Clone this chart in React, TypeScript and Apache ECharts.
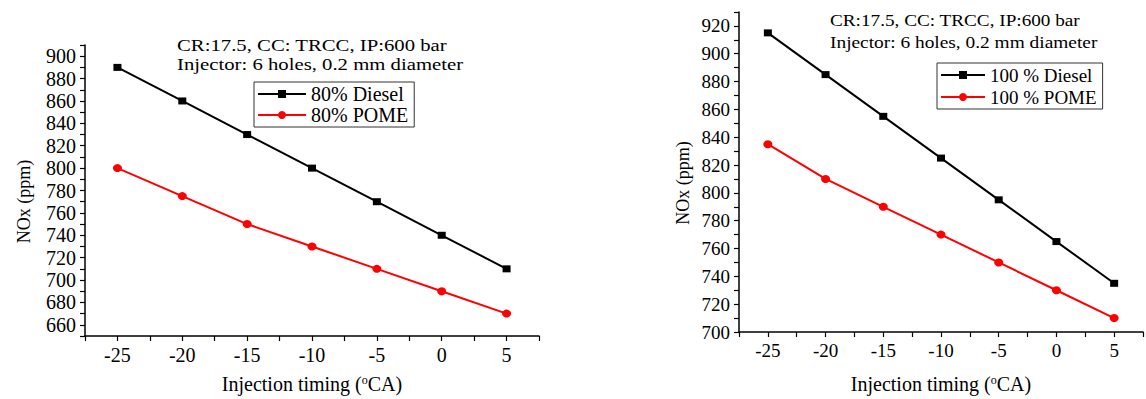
import React, { useEffect, useRef } from 'react';
import * as echarts from 'echarts';

const timings = [-25, -20, -15, -10, -5, 0, 5];
const diesel80 = [890, 860, 830, 800, 770, 740, 710];
const pome80 = [800, 775, 750, 730, 710, 690, 670];
const diesel100 = [915, 885, 855, 825, 795, 765, 735];
const pome100 = [835, 810, 790, 770, 750, 730, 710];
const leftNames = ['80% Diesel', '80% POME'];
const rightNames = ['100 % Diesel', '100 % POME'];
const conditionText = 'CR:17.5, CC: TRCC, IP:600 bar';
const injectorText = 'Injector: 6 holes, 0.2 mm diameter';
const xName = 'Injection timing ({sup|o}CA)';
const yName = 'NOx (ppm)';

const FONT = 'Liberation Serif';

function makeX(gridIndex: number, fontSize: number, nameGap: number) {
  return {
    type: 'value',
    gridIndex,
    min: -27.5,
    max: 7.5,
    interval: 2.5,
    axisLine: { onZero: false, lineStyle: { color: '#000', width: 1.5 } },
    axisTick: { length: 5, lineStyle: { color: '#000', width: 1.2 } },
    splitLine: { show: false },
    axisLabel: {
      color: '#000',
      fontFamily: FONT,
      fontSize,
      margin: 9,
      formatter: (v: number) => (v % 5 === 0 ? String(v) : ''),
    },
    name: xName,
    nameLocation: 'middle',
    nameGap,
    nameTextStyle: {
      color: '#000',
      fontFamily: FONT,
      fontSize: 20,
      rich: {
        sup: { fontFamily: FONT, fontSize: 12, color: '#000', verticalAlign: 'top', lineHeight: 12 },
      },
    },
  };
}

function makeY(gridIndex: number, min: number, max: number, fontSize: number, nameGap: number) {
  return {
    type: 'value',
    gridIndex,
    min,
    max,
    interval: 10,
    axisLine: { show: true, onZero: false, lineStyle: { color: '#000', width: 1.5 } },
    axisTick: { show: true, length: 5, lineStyle: { color: '#000', width: 1.2 } },
    splitLine: { show: false },
    axisLabel: {
      color: '#000',
      fontFamily: FONT,
      fontSize,
      margin: 9,
      formatter: (v: number) => (v % 20 === 0 ? String(v) : ''),
    },
    name: yName,
    nameLocation: 'middle',
    nameGap,
    nameTextStyle: { color: '#000', fontFamily: FONT, fontSize: 18, padding: [0, 22, 0, 0] },
  };
}

function lineSeries(name: string, values: number[], axis: number, red: boolean) {
  const color = red ? '#ff0000' : '#000000';
  return {
    name,
    type: 'line',
    xAxisIndex: axis,
    yAxisIndex: axis,
    data: timings.map((t, i) => [t, values[i]]),
    symbol: red ? 'circle' : 'rect',
    symbolSize: red ? [9, 8] : [8, 7],
    color,
    lineStyle: { color, width: 2 },
    itemStyle: { color },
  };
}

function legendOf(names: string[], left: number, top: number, fontSize: number, lineHeight: number, gap: number, itemWidth: number) {
  return {
    data: names,
    orient: 'vertical',
    left,
    top,
    padding: [2, 6, 2, 3],
    itemGap: gap,
    itemWidth,
    itemHeight: 10,
    borderColor: '#333',
    borderWidth: 1,
    textStyle: { color: '#000', fontFamily: FONT, fontSize, lineHeight },
  };
}

function textEl(text: string, x: number, y: number, scaleX: number) {
  return {
    type: 'text',
    x,
    y,
    scaleX,
    style: { text, fontFamily: FONT, fontSize: 17, fill: '#000', verticalAlign: 'middle', align: 'left' },
  };
}

export default function App() {
  const ref = useRef<HTMLDivElement>(null);
  useEffect(() => {
    if (!ref.current) return;
    const chart = echarts.init(ref.current, undefined, { renderer: 'svg' });
    chart.setOption({
      animation: false,
      backgroundColor: '#fff',
      textStyle: { fontFamily: FONT, color: '#000' },
      grid: [
        { left: 85, top: 45, width: 454, height: 294 },
        { left: 739, top: 12, width: 410, height: 320 },
      ],
      xAxis: [makeX(0, 20, 38), makeX(1, 19, 42)],
      yAxis: [makeY(0, 650, 910, 20, 52), makeY(1, 700, 930, 19, 47)],
      legend: [
        legendOf(leftNames, 254, 82, 20, 19, 1, 48),
        legendOf(rightNames, 937, 63, 19, 20, 2, 44),
      ],
      graphic: [
        textEl(conditionText, 177, 45, 1.22),
        textEl(injectorText, 177, 64, 1.22),
        textEl(conditionText, 830, 20, 1.13),
        textEl(injectorText, 830, 42, 1.14),
      ],
      series: [
        lineSeries(leftNames[0], diesel80, 0, false),
        lineSeries(leftNames[1], pome80, 0, true),
        lineSeries(rightNames[0], diesel100, 1, false),
        lineSeries(rightNames[1], pome100, 1, true),
      ],
    });
    return () => chart.dispose();
  }, []);
  return (
    <div style={{ position: 'absolute', left: 0, top: 0, width: 1146, height: 399, background: '#fff' }}>
      <div ref={ref} style={{ width: 1146, height: 399 }} />
    </div>
  );
}
